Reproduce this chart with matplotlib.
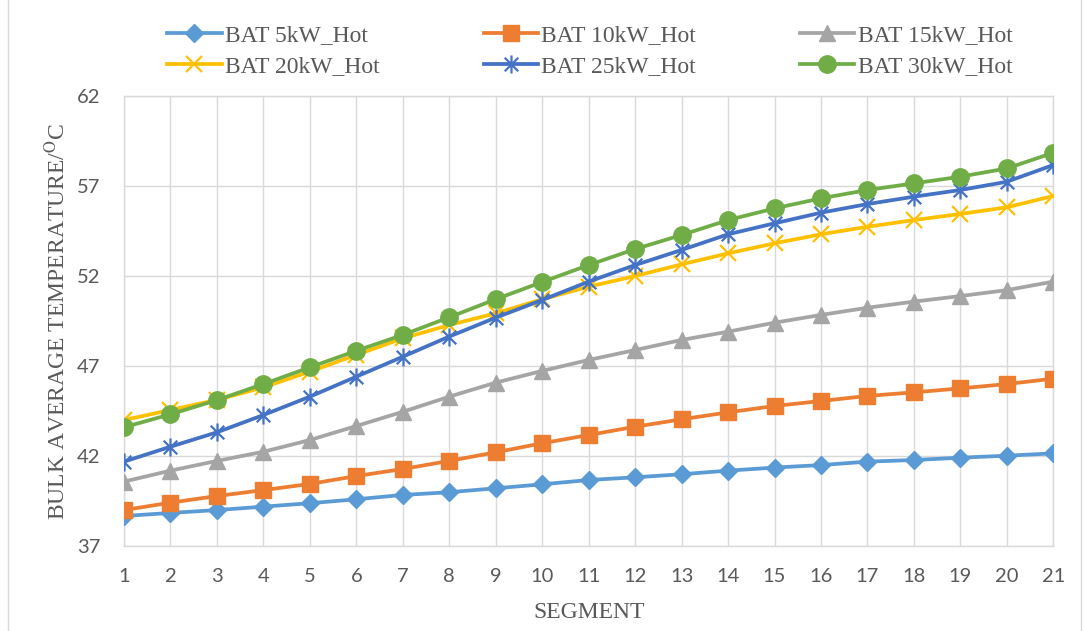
import matplotlib
matplotlib.use("Agg")
import matplotlib.pyplot as plt
from matplotlib.path import Path
from matplotlib.patches import Rectangle

segments = list(range(1, 22))
bat_5kw = [38.65, 38.82, 38.98, 39.17, 39.36, 39.58, 39.82, 39.97, 40.19, 40.41, 40.65,
           40.80, 40.97, 41.17, 41.34, 41.48, 41.67, 41.76, 41.89, 42.00, 42.13]
bat_10kw = [38.98, 39.39, 39.76, 40.09, 40.43, 40.87, 41.26, 41.71, 42.19, 42.69, 43.15,
            43.61, 44.02, 44.41, 44.76, 45.04, 45.32, 45.52, 45.74, 45.98, 46.28]
bat_15kw = [40.56, 41.17, 41.71, 42.22, 42.87, 43.65, 44.44, 45.28, 46.06, 46.71, 47.32,
            47.87, 48.43, 48.89, 49.39, 49.82, 50.22, 50.56, 50.87, 51.20, 51.67]
bat_20kw = [43.98, 44.54, 45.10, 45.80, 46.67, 47.60, 48.52, 49.26, 49.91, 50.69, 51.39,
            51.98, 52.63, 53.24, 53.80, 54.30, 54.72, 55.09, 55.43, 55.80, 56.43]
bat_25kw = [41.67, 42.50, 43.30, 44.26, 45.28, 46.39, 47.50, 48.62, 49.67, 50.65, 51.67,
            52.59, 53.43, 54.30, 54.91, 55.50, 55.98, 56.39, 56.76, 57.22, 58.15]
bat_30kw = [43.58, 44.30, 45.09, 45.98, 46.91, 47.83, 48.71, 49.69, 50.69, 51.65, 52.59,
            53.48, 54.26, 55.09, 55.74, 56.30, 56.76, 57.13, 57.50, 57.96, 58.83]
series_labels = ["BAT 5kW_Hot", "BAT 10kW_Hot", "BAT 15kW_Hot",
                 "BAT 20kW_Hot", "BAT 25kW_Hot", "BAT 30kW_Hot"]
y_ticks = [37, 42, 47, 52, 57, 62]

plt.rcParams['mathtext.fontset'] = 'stix'

# Excel-style asterisk: vertical bar plus an X
ast = Path([(0, -1), (0, 1), (-0.75, -0.75), (0.75, 0.75), (-0.75, 0.75), (0.75, -0.75)],
           [Path.MOVETO, Path.LINETO, Path.MOVETO, Path.LINETO, Path.MOVETO, Path.LINETO])

styles = [
    dict(color="#5B9BD5", marker="D", ms=9, mec="#5B9BD5"),
    dict(color="#ED7D31", marker="s", ms=11, mec="#ED7D31"),
    dict(color="#A5A5A5", marker="^", ms=12, mec="#A5A5A5"),
    dict(color="#FFC000", marker="x", ms=11, mew=1.6),
    dict(color="#4472C4", marker=ast, ms=13, mew=1.6),
    dict(color="#70AD47", marker="o", ms=12.5, mec="#70AD47"),
]
data = [bat_5kw, bat_10kw, bat_15kw, bat_20kw, bat_25kw, bat_30kw]

fig = plt.figure(figsize=(10.84, 6.31), dpi=100)
ax = fig.add_axes([124/1084, 1-545.7/631, (1053.3-124)/1084, (545.7-95.7)/631])

handles = []
for vals, st, lab in zip(data, styles, series_labels):
    h, = ax.plot(segments, vals, lw=2.7, label=lab, zorder=3, **st)
    handles.append(h)

ax.set_xlim(1, 21)
ax.set_ylim(37, 62)
ax.set_yticks(y_ticks)
ax.set_xticks(segments)
ax.grid(True, color="#D9D9D9", lw=1.0)
ax.set_axisbelow(True)
for s in ax.spines.values():
    s.set_color("#D9D9D9")
    s.set_linewidth(1.0)
ax.tick_params(length=0, labelsize=14.5, labelcolor="#595959")
ax.tick_params(axis='y', pad=17)
ax.tick_params(axis='x', pad=16)
for t in ax.get_xticklabels() + ax.get_yticklabels():
    t.set_fontfamily("Lato")

fig.text(57/1084, 1-321/631, "BULK AVERAGE TEMPERATURE/$^{\\mathrm{O}}$C", rotation=90,
         ha="center", va="center", fontsize=17, family="Liberation Serif", color="#595959")
fig.text(588.7/1084, 1-612/631, "SEGMENT", ha="center", va="center",
         fontsize=17, family="Liberation Serif", color="#595959")

order = [0, 3, 1, 4, 2, 5]
leg = fig.legend(handles=[handles[i] for i in order], loc="center",
                 bbox_to_anchor=(590/1084, 1-51/631),
                 ncol=3, frameon=False, handlelength=2.3, handletextpad=0.15,
                 columnspacing=4.4, labelspacing=0.42,
                 prop={"family": "Liberation Serif", "size": 17})
for t in leg.get_texts():
    t.set_color("#595959")

fig.add_artist(Rectangle((8/1084, -0.01), (1081-8)/1084, 1.02, transform=fig.transFigure,
                         fill=False, edgecolor="#D9D9D9", lw=1.0))

fig.savefig("out.png", dpi=100)
